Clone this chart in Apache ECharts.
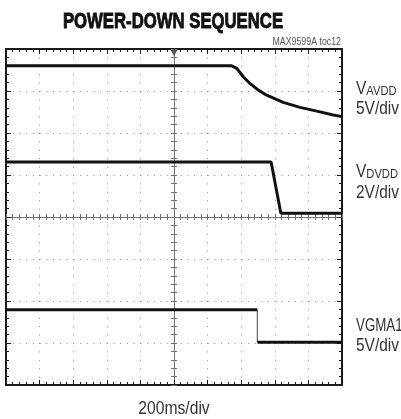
<!DOCTYPE html>
<html>
<head>
<meta charset="utf-8">
<script src="https://cdn.jsdelivr.net/npm/echarts@6/dist/echarts.min.js"></script>
<style>
html, body { margin: 0; padding: 0; background: #fff; }
#chart { width: 401px; height: 419px; }
</style>
</head>
<body>
<div id="chart"></div>
<script>
// DATOS (x en divisiones de 200ms, y en divisiones verticales)
var avddX = [0, 6.72, 6.87, 7.06, 7.26, 7.51, 7.76, 8.25, 8.75, 9.25, 9.74, 10];
var avddY = [7.6, 7.6, 7.54, 7.34, 7.18, 7.02, 6.9, 6.73, 6.61, 6.52, 6.43, 6.39];
var dvddX = [0, 7.89, 8.18, 10];
var dvddY = [5.31, 5.31, 4.09, 4.09];
var gmaX = [0, 7.48, 7.48, 10];
var gmaY = [1.79, 1.79, 1.02, 1.02];
var labels = ['VAVDD', 'VDVDD', 'VGMA1'];
var scales = ['5V/div', '2V/div', '5V/div'];

var FONT = '"Liberation Sans", Arial, sans-serif';

function pairs(xs, ys) {
	var out = [];
	for (var i = 0; i < xs.length; i++) {
		out.push([xs[i], ys[i]]);
	}
	return out;
}

// eje del marco (borde negro con marcas hacia dentro)
function frameAxis(pos, max, split) {
	return {
		type: 'value', gridIndex: 0, position: pos, min: 0, max: max, interval: 1,
		axisLine: { show: true, onZero: false, lineStyle: { color: '#1a1a1a', width: 2 } },
		axisTick: { show: true, inside: true, length: 5, lineStyle: { color: '#1a1a1a', width: 1 } },
		minorTick: { show: true, splitNumber: 5, length: 3, lineStyle: { color: '#1a1a1a', width: 1 } },
		axisLabel: { show: false },
		splitLine: split ? split : { show: false }
	};
}

// ejes centrales (cruz gris), uno por cada lado de la linea
function crossAxis(pos, max, inside) {
	return {
		type: 'value', gridIndex: 0, position: pos, offset: -168, min: 0, max: max, interval: 1,
		axisLine: { show: true, onZero: false, lineStyle: { color: '#707070', width: 1 } },
		axisTick: { show: true, inside: inside, length: 3, lineStyle: { color: '#707070', width: 1 } },
		minorTick: { show: true, splitNumber: 5, length: 3, lineStyle: { color: '#707070', width: 1 } },
		axisLabel: { show: false },
		splitLine: { show: false }
	};
}

function traceSeries(name, data, width) {
	return {
		name: name, type: 'line', xAxisIndex: 0, yAxisIndex: 0,
		data: data, showSymbol: false, animation: false,
		lineStyle: { color: '#111', width: width }
	};
}

// textos estrechos: Liberation Sans comprimida en horizontal
function narrowText(x, y, text, size, scale, align, extra) {
	var style = { text: text, fontFamily: FONT, fontSize: size, fill: '#333', textAlign: align, textVerticalAlign: 'middle' };
	for (var k in extra) style[k] = extra[k];
	return { type: 'text', x: x, y: y, scaleX: scale, style: style };
}

function sideLabel(i, y1, y2) {
	var t = labels[i];
	var first = narrowText(356, y1, '{v|V}{s|' + t.substring(1) + '}', 18, 0.86, 'left', {
		rich: {
			v: { fontFamily: FONT, fontSize: 18, fill: '#333', verticalAlign: 'bottom' },
			s: { fontFamily: FONT, fontSize: 13, fill: '#333', verticalAlign: 'bottom' }
		}
	});
	if (t.charAt(1) == 'G') {
		first = narrowText(356, y1, t, 18, 0.74, 'left', {});
	}
	return [first, narrowText(356, y2, scales[i], 18, 0.86, 'left', {})];
}

var chart = echarts.init(document.getElementById('chart'), null, { renderer: 'canvas' });

var graphics = [
	narrowText(173, 22, 'POWER-DOWN SEQUENCE', 22, 0.76, 'center', { fontWeight: 'bold', fill: '#111', stroke: '#111', lineWidth: 0.9 }),
	narrowText(341, 42, 'MAX9599A toc12', 11, 0.8, 'right', { fill: '#555' }),
	narrowText(174, 409, '200ms/div', 18, 0.87, 'center', {})
];
graphics = graphics.concat(sideLabel(0, 89, 109), sideLabel(1, 172, 193), sideLabel(2, 326, 346));

var option = {
	animation: false,
	backgroundColor: '#fff',
	grid: [{ left: 6, top: 49, width: 336, height: 336 }],
	xAxis: [
		frameAxis('bottom', 10, { show: true, lineStyle: { color: '#888', width: 1, type: [1, 7.4] } }),
		frameAxis('top', 10),
		crossAxis('bottom', 10, false),
		crossAxis('bottom', 10, true)
	],
	yAxis: [
		frameAxis('left', 8, { show: true, lineStyle: { color: '#888', width: 1, type: [1, 5.72] } }),
		frameAxis('right', 8),
		crossAxis('left', 8, false),
		crossAxis('left', 8, true)
	],
	series: [
		traceSeries('VAVDD', pairs(avddX, avddY), 3),
		traceSeries('VDVDD', pairs(dvddX, dvddY), 3),
		traceSeries('VGMA1', pairs(gmaX.slice(0, 2), gmaY.slice(0, 2)), 3),
		traceSeries('VGMA1 edge', pairs(gmaX.slice(1, 3), gmaY.slice(1, 3)), 0.8),
		traceSeries('VGMA1 low', pairs(gmaX.slice(2), gmaY.slice(2)), 3)
	],
	graphic: graphics
};
// marcador de disparo arriba en el centro
option.series[0].markPoint = {
	symbol: 'triangle', symbolSize: [7, 6], symbolRotate: 180, symbolOffset: [0, 4],
	itemStyle: { color: '#555' }, label: { show: false },
	data: [{ coord: [5, 8] }]
};
chart.setOption(option);
</script>
</body>
</html>
